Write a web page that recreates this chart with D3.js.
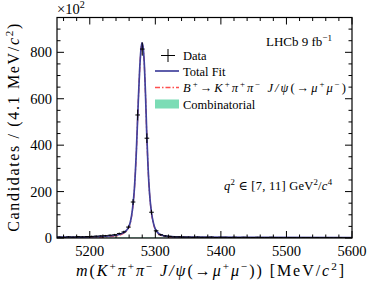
<!DOCTYPE html>
<html>
<head>
<meta charset="utf-8">
<script src="https://cdn.jsdelivr.net/npm/d3@7.9.0/dist/d3.min.js"></script>
<style>
  body { margin: 0; background: #fff; }
  svg text { font-family: "Liberation Serif", "DejaVu Serif", serif; fill: #000; }
</style>
</head>
<body>
<svg id="chart" width="374" height="285"></svg>
<script>
// binning of the data histogram
const binLow = 5150, binHigh = 5600, nBins = 64;
// event counts per bin
const counts = [4, 3, 5, 4, 6, 5, 6, 7, 8, 9,
  10, 12, 14, 19, 26, 47, 155, 530, 814, 430,
  111, 31, 14, 9, 7, 5, 5, 4, 4, 3,
  4, 3, 3, 4, 2, 3, 3, 2, 3, 2,
  3, 2, 2, 3, 2, 2, 3, 2, 2, 1,
  2, 2, 1, 2, 2, 1, 2, 1, 2, 1,
  1, 2, 1, 1];

// total fit curve samples
const fitMass = [5150, 5180, 5200, 5220, 5235, 5245, 5252, 5256, 5259, 5262,
  5265, 5268, 5271, 5274, 5276, 5278, 5279.5, 5281, 5283, 5285,
  5287, 5289, 5291, 5294, 5297, 5300, 5304, 5310, 5318, 5330,
  5360, 5450, 5600];
const fitTotal = [4, 4, 5, 7, 10, 15, 24, 33, 45, 70,
  120, 210, 370, 590, 720, 810, 841, 830, 760, 620,
  440, 300, 200, 112, 65, 38, 22, 12, 7, 5,
  4, 3, 2];
const fitSignal = [1, 1, 2, 4, 7, 12, 21, 30, 42, 67,
  117, 207, 367, 587, 717, 807, 838, 827, 757, 617,
  437, 297, 197, 109, 62, 35, 19, 10, 5, 3,
  2, 1, 0.5];
// combinatorial background
const combMass = [5150, 5250, 5350, 5450, 5600];
const combVals = [3, 2.6, 2.2, 1.9, 1.5];

const xTicks = [5200, 5300, 5400, 5500, 5600];
const yTicks = [0, 200, 400, 600, 800];

const svg = d3.select('#chart');
const L = 57, R = 352, T = 17.5, B = 238;

const x = d3.scaleLinear().domain([binLow, binHigh]).range([L, R]);
const y = d3.scaleLinear().domain([0, 950]).range([B, T]);

svg.append('clipPath').attr('id', 'clip')
  .append('rect').attr('x', L).attr('y', T).attr('width', R - L).attr('height', B - T);
const plot = svg.append('g').attr('clip-path', 'url(#clip)');

// rich text: segments [text, flags] with flags 'i' italic, 's' superscript
function rich(sel, segs, size) {
  let off = 0;
  segs.forEach(([t, f = '']) => {
    const sup = f.includes('s');
    const target = sup ? -size * 0.4 : 0;
    const ts = sel.append('tspan').text(t);
    if (target !== off) { ts.attr('dy', target - off); off = target; }
    if (f.includes('i')) ts.attr('font-style', 'italic');
    if (sup) ts.attr('font-size', size * 0.7);
  });
  return sel;
}

// combinatorial
plot.append('path')
  .datum(combMass.map((m, i) => [m, combVals[i]]))
  .attr('fill', '#7bdcb5')
  .attr('d', d3.area().x(d => x(d[0])).y0(y(0)).y1(d => y(d[1])));

// signal
plot.append('path')
  .datum(fitMass.map((m, i) => [m, fitSignal[i]]))
  .attr('fill', 'none').attr('stroke', '#ff4f4f').attr('stroke-width', 1.3)
  .attr('stroke-dasharray', '5,2,1.5,2')
  .attr('d', d3.line().x(d => x(d[0])).y(d => y(d[1])).curve(d3.curveMonotoneX));

// total fit
plot.append('path')
  .datum(fitMass.map((m, i) => [m, fitTotal[i]]))
  .attr('fill', 'none').attr('stroke', '#41419c').attr('stroke-width', 1.7)
  .attr('d', d3.line().x(d => x(d[0])).y(d => y(d[1])).curve(d3.curveMonotoneX));

// data points
const bw = (binHigh - binLow) / nBins;
const pts = plot.append('g').attr('stroke', '#000').attr('stroke-width', 1);
counts.forEach((c, i) => {
  const m = binLow + bw * (i + 0.5);
  const e = Math.sqrt(c);
  pts.append('line').attr('x1', x(m - bw / 2)).attr('x2', x(m + bw / 2))
    .attr('y1', y(c)).attr('y2', y(c));
  pts.append('line').attr('x1', x(m)).attr('x2', x(m))
    .attr('y1', y(c - e)).attr('y2', y(c + e));
});

// frame
svg.append('rect').attr('x', L).attr('y', T).attr('width', R - L).attr('height', B - T)
  .attr('fill', 'none').attr('stroke', '#000').attr('stroke-width', 1.2);

// ticks (inward, all sides)
const tk = svg.append('g').attr('stroke', '#000').attr('stroke-width', 1);
d3.range(5160, 5601, 20).forEach(v => {
  const len = v % 100 === 0 ? 7 : 3.5;
  tk.append('line').attr('x1', x(v)).attr('x2', x(v)).attr('y1', B).attr('y2', B - len);
  tk.append('line').attr('x1', x(v)).attr('x2', x(v)).attr('y1', T).attr('y2', T + len);
});
d3.range(0, 951, 50).forEach(v => {
  const len = v % 200 === 0 ? 7 : 3.5;
  tk.append('line').attr('y1', y(v)).attr('y2', y(v)).attr('x1', L).attr('x2', L + len);
  tk.append('line').attr('y1', y(v)).attr('y2', y(v)).attr('x1', R).attr('x2', R - len);
});

// tick labels
xTicks.forEach(v => {
  svg.append('text').attr('x', x(v)).attr('y', B + 18).attr('text-anchor', 'middle')
    .attr('font-size', 14.5).text(v);
});
yTicks.forEach(v => {
  svg.append('text').attr('x', L - 5).attr('y', y(v) + 5).attr('text-anchor', 'end')
    .attr('font-size', 14.5).text(v);
});

// ×10^2
rich(svg.append('text').attr('x', L).attr('y', 14).attr('font-size', 14.5),
  [['×10'], ['2', 's']], 14.5);

// axis titles
rich(svg.append('text').attr('transform', `translate(19,${(T + B) / 2}) rotate(-90)`)
  .attr('text-anchor', 'middle').attr('font-size', 16)
  .attr('textLength', 208).attr('lengthAdjust', 'spacing'),
  [['Candidates / (4.1 MeV/'], ['c', 'i'], ['2', 's'], [')']], 16);

rich(svg.append('text').attr('x', 210).attr('y', 276)
  .attr('text-anchor', 'middle').attr('font-size', 16)
  .attr('textLength', 268).attr('lengthAdjust', 'spacing'),
  [['m', 'i'], ['('], ['K', 'i'], ['+', 's'], ['π', 'i'], ['+', 's'], ['π', 'i'], ['−', 's'],
   [' J/ψ', 'i'], ['(→'], ['μ', 'i'], ['+', 's'], ['μ', 'i'], ['−', 's'],
   [')) [MeV/'], ['c', 'i'], ['2', 's'], [']']], 16);

// LHCb label
rich(svg.append('text').attr('x', 332).attr('y', 46).attr('text-anchor', 'end').attr('font-size', 13),
  [['LHCb 9 fb'], ['−1', 's']], 13);

// q2 label
rich(svg.append('text').attr('x', 332).attr('y', 190).attr('text-anchor', 'end').attr('font-size', 12.5)
  .attr('textLength', 108).attr('lengthAdjust', 'spacing'),
  [['q', 'i'], ['2', 's'], [' ∈ [7, 11] GeV'], ['2', 's'], ['/'], ['c', 'i'], ['4', 's']], 12.5);

// legend
const lg = svg.append('g');
const lx = 155, lw = 24, tx = 183, fs = 12.5;
lg.append('line').attr('x1', 168).attr('x2', 168).attr('y1', 49).attr('y2', 62).attr('stroke', '#000');
lg.append('line').attr('x1', 161).attr('x2', 175).attr('y1', 55.5).attr('y2', 55.5).attr('stroke', '#000');
lg.append('text').attr('x', tx).attr('y', 59.5).attr('font-size', fs).text('Data');

lg.append('line').attr('x1', lx).attr('x2', lx + lw).attr('y1', 71).attr('y2', 71)
  .attr('stroke', '#41419c').attr('stroke-width', 1.7);
lg.append('text').attr('x', tx).attr('y', 75.5).attr('font-size', fs).text('Total Fit');

lg.append('line').attr('x1', lx).attr('x2', lx + lw).attr('y1', 87.5).attr('y2', 87.5)
  .attr('stroke', '#ff4f4f').attr('stroke-width', 1.3).attr('stroke-dasharray', '5,2,1.5,2');
rich(lg.append('text').attr('x', tx).attr('y', 92).attr('font-size', fs)
  .attr('textLength', 163).attr('lengthAdjust', 'spacing'),
  [['B', 'i'], ['+', 's'], ['→'], ['K', 'i'], ['+', 's'], ['π', 'i'], ['+', 's'], ['π', 'i'], ['−', 's'],
   [' J/ψ', 'i'], ['(→'], ['μ', 'i'], ['+', 's'], ['μ', 'i'], ['−', 's'], [')']], fs);

lg.append('rect').attr('x', lx).attr('y', 99.5).attr('width', lw).attr('height', 9).attr('fill', '#7bdcb5');
lg.append('text').attr('x', tx).attr('y', 108.5).attr('font-size', fs).text('Combinatorial');
</script>
</body>
</html>
